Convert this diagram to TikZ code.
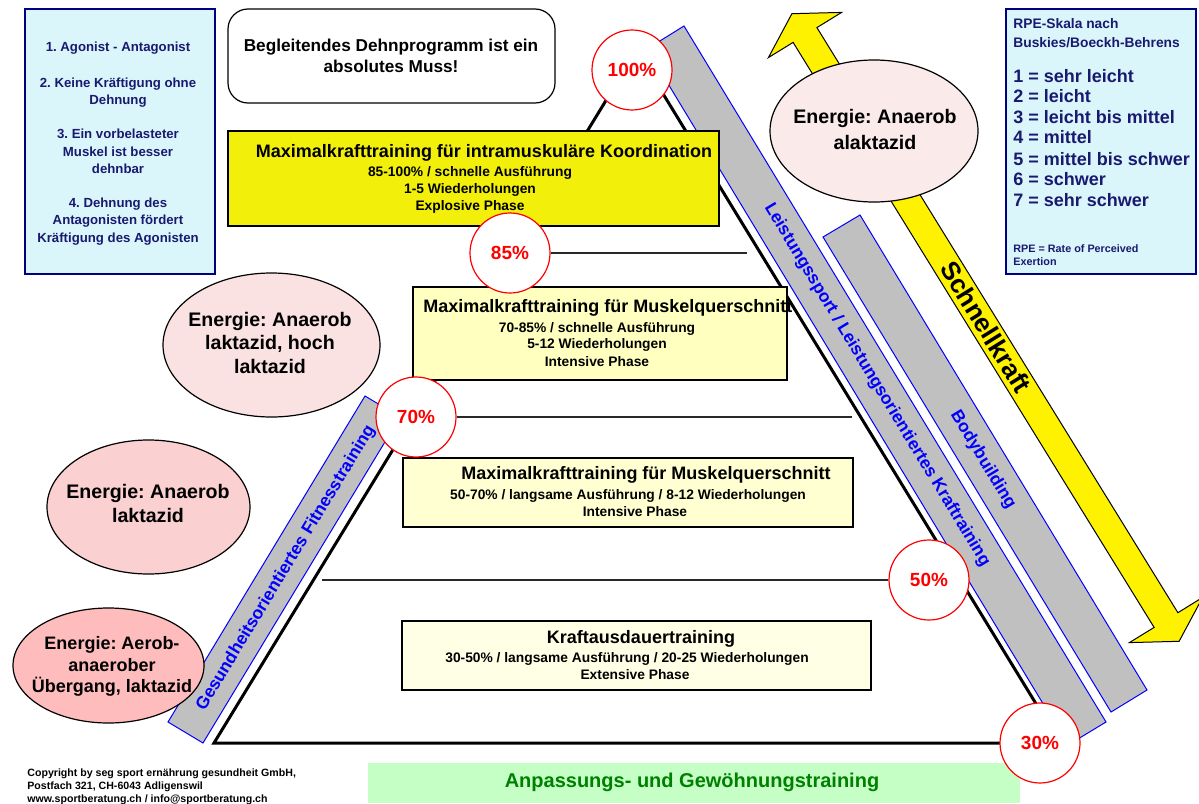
\documentclass[tikz,border=0pt]{standalone}
\usepackage{fontspec}
\setmainfont{Liberation Sans}
\usetikzlibrary{shapes.geometric}
\definecolor{navyT}{RGB}{25,25,112}
\definecolor{navyB}{RGB}{0,0,128}
\definecolor{cyanF}{RGB}{218,246,250}
\definecolor{yel1}{RGB}{242,240,10}
\definecolor{yel2}{RGB}{255,255,192}
\definecolor{yel3}{RGB}{255,255,210}
\definecolor{yel4}{RGB}{255,255,230}
\definecolor{greenF}{RGB}{198,255,198}
\definecolor{greenT}{RGB}{0,128,0}
\definecolor{pink1}{RGB}{251,234,234}
\definecolor{pink2}{RGB}{251,226,226}
\definecolor{pink3}{RGB}{250,208,208}
\definecolor{pink4}{RGB}{255,188,188}
\definecolor{barGray}{RGB}{192,192,192}
\definecolor{hlineC}{RGB}{40,40,40}
\newcommand\fsz[1]{\fontsize{#1pt}{#1pt}\selectfont\bfseries\frenchspacing}
\newcommand\Ln[5][]{\node[txt,#1] (#2) at (#3,#4) {#5};}
\begin{document}
\begin{tikzpicture}[x=0.5pt,y=-0.5pt,
  txt/.style={inner sep=0pt, anchor=mid},
  pct/.style={circle, draw=red, fill=white, line width=0.6pt, minimum size=40pt, inner sep=0pt, text=red, font=\fsz{9.5}},
  bar/.style={fill=barGray, draw=blue, line width=0.5pt},
  bartxt/.style={txt, anchor=center, text=blue, font=\fsz{8.7}},
  box/.style={draw=black, line width=0.6pt},
  infobox/.style={fill=cyanF, draw=navyB, line width=0.7pt},
  ell/.style={ellipse, draw=black, line width=0.6pt, inner sep=0pt},
  hline/.style={draw=hlineC, line width=0.6pt},
  etxt/.style={txt, font=\fsz{9.8}},
  ttl/.style={txt, font=\fsz{9}},
  sub/.style={txt, font=\fsz{6.9}},
  ltxt/.style={txt, text=navyT, font=\fsz{6.6}},
  rpe/.style={txt, anchor=mid west, text=navyT, font=\fsz{9}},
]
\useasboundingbox (0,0) rectangle (1199,803);
\fill[white] (0,0) rectangle (1199,803);

% triangle
\coordinate (apex) at (636.5,50.4);
\coordinate (tl) at (214,743);
\coordinate (tr) at (1060,743);
\draw[line width=1.5pt, line join=miter] (tl) -- (apex) -- (tr) -- cycle;

% grey bars
\draw[bar] (365,396) -- (400,417) -- (203,743) -- (168,722) -- cycle;
\draw[bar] (647,49) -- (684,26) -- (1106,722) -- (1068,745) -- cycle;
\draw[bar] (823,237) -- (860,215) -- (1147,690) -- (1111,712) -- cycle;
\node[bartxt, rotate=58.85] (tfit) at (286,568) {Gesundheitsorientiertes Fitnesstraining};
\node[bartxt, rotate=-58.8] (tleist) at (877,385) {Leistungssport / Leistungsorientiertes Kraftraining};
\node[bartxt, rotate=-58.8] (tbody) at (983,460) {Bodybuilding};

% double arrow Schnellkraft
\fill[yellow] (791.9,13.7) -- (841.6,12.4) -- (816.9,27.6) -- (1177.9,612.7) -- (1202.6,597.4) -- (1179.1,641.3) -- (1129.4,642.6) -- (1154.1,627.4) -- (793.1,42.4) -- (768.4,57.6) -- cycle;
\draw[black, line width=0.5pt, line join=miter] (791.9,13.7) -- (841.6,12.4) -- (816.9,27.6) -- (1177.9,612.7) -- (1202.6,597.4) -- (1179.1,641.3) -- (1129.4,642.6) -- (1154.1,627.4) -- (793.1,42.4) -- (768.4,57.6) -- cycle;
\node[txt, anchor=center, rotate=-58.3, font=\fsz{13}] (schnell) at (986,327) {Schnellkraft};

% left info box
\draw[infobox] (25,9) rectangle (215,274);
\Ln[ltxt]{l1}{118}{46}{1. Agonist - Antagonist}
\Ln[ltxt]{l2a}{118}{82}{2. Keine Kräftigung ohne}
\Ln[ltxt]{l2b}{118}{99}{Dehnung}
\Ln[ltxt]{l3a}{118}{133}{3. Ein vorbelasteter}
\Ln[ltxt]{l3b}{118}{151}{Muskel ist besser}
\Ln[ltxt]{l3c}{118}{168}{dehnbar}
\Ln[ltxt]{l4a}{118}{202}{4. Dehnung des}
\Ln[ltxt]{l4b}{118}{219}{Antagonisten fördert}
\Ln[ltxt]{l4c}{118}{237}{Kräftigung des Agonisten}

% RPE box
\draw[infobox] (1006,9) rectangle (1196,274);
\Ln[rpe, font=\fsz{6.9}]{r0a}{1013}{23}{RPE-Skala nach}
\Ln[rpe, font=\fsz{6.9}]{r0b}{1013}{42}{Buskies/Boeckh-Behrens}
\Ln[rpe]{r1}{1013}{77}{1 = sehr leicht}
\Ln[rpe]{r2}{1013}{97}{2 = leicht}
\Ln[rpe]{r3}{1013}{118}{3 = leicht bis mittel}
\Ln[rpe]{r4}{1013}{138}{4 = mittel}
\Ln[rpe]{r5}{1013}{160}{5 = mittel bis schwer}
\Ln[rpe]{r6}{1013}{180}{6 = schwer}
\Ln[rpe]{r7}{1013}{201}{7 = sehr schwer}
\Ln[rpe, font=\fsz{5.4}]{r8a}{1013}{247}{RPE = Rate of Perceived}
\Ln[rpe, font=\fsz{5.4}]{r8b}{1013}{260}{Exertion}

% rounded box
\draw[box, rounded corners=10pt, fill=white] (228,9) rectangle (555,103);
\Ln[txt, font=\fsz{8.6}]{d1}{391}{46}{Begleitendes Dehnprogramm ist ein}
\Ln[txt, font=\fsz{8.6}]{d2}{391}{67}{absolutes Muss!}

% level boxes
\draw[box, fill=yel1] (228,131) rectangle (719,226);
\Ln[ttl]{b1t}{484}{152}{Maximalkrafttraining für intramuskuläre Koordination}
\Ln[sub]{b1a}{470}{171}{85-100\% / schnelle Ausführung}
\Ln[sub]{b1b}{470}{188}{1-5 Wiederholungen}
\Ln[sub]{b1c}{470}{205}{Explosive Phase}

\draw[box, fill=yel2] (413,287) rectangle (787,380);
\Ln[ttl, anchor=mid west]{b2t}{423}{307}{Maximalkrafttraining für Muskelquerschnitt}
\Ln[sub]{b2a}{597}{327}{70-85\% / schnelle Ausführung}
\Ln[sub]{b2b}{597}{343}{5-12 Wiederholungen}
\Ln[sub]{b2c}{597}{361}{Intensive Phase}

\draw[box, fill=yel3] (403,458) rectangle (853,527);
\Ln[ttl]{b3t}{646}{474}{Maximalkrafttraining für Muskelquerschnitt}
\Ln[sub]{b3a}{628}{494}{50-70\% / langsame Ausführung / 8-12 Wiederholungen}
\Ln[sub]{b3b}{635}{511}{Intensive Phase}

\draw[box, fill=yel4] (402,621) rectangle (871,690);
\Ln[ttl]{b4t}{641}{638}{Kraftausdauertraining}
\Ln[sub]{b4a}{627}{657}{30-50\% / langsame Ausführung / 20-25 Wiederholungen}
\Ln[sub]{b4b}{635}{674}{Extensive Phase}

% green box
\fill[greenF] (368,763) rectangle (1020,803);
\Ln[txt, text=greenT, font=\fsz{10}]{green}{692}{782}{Anpassungs- und Gewöhnungstraining}

% copyright
\Ln[txt, anchor=mid west, font=\fsz{5.3}]{c1}{27}{771}{Copyright by seg sport ernährung gesundheit GmbH,}
\Ln[txt, anchor=mid west, font=\fsz{5.3}]{c2}{27}{784}{Postfach 321, CH-6043 Adligenswil}
\Ln[txt, anchor=mid west, font=\fsz{5.3}]{c3}{27}{797}{www.sportberatung.ch / info@sportberatung.ch}

% ellipses
\node[ell, fill=pink1, minimum width=104pt, minimum height=71pt] (e1) at (874,131) {};
\Ln[etxt]{e1a}{875}{118}{Energie: Anaerob}
\Ln[etxt]{e1b}{875}{144}{alaktazid}
\node[ell, fill=pink2, minimum width=108.5pt, minimum height=72pt] (e2) at (271.5,345) {};
\Ln[etxt]{e2a}{270}{321}{Energie: Anaerob}
\Ln[etxt]{e2b}{270}{344}{laktazid, hoch}
\Ln[etxt]{e2c}{270}{368}{laktazid}
\node[ell, fill=pink3, minimum width=101.5pt, minimum height=67pt] (e3) at (148.5,507) {};
\Ln[etxt]{e3a}{148}{493}{Energie: Anaerob}
\Ln[etxt]{e3b}{148}{517}{laktazid}
\node[ell, fill=pink4, minimum width=95.5pt, minimum height=57.5pt] (e4) at (108.5,665.5) {};
\Ln[etxt, font=\fsz{9}]{e4a}{112}{644}{Energie: Aerob-}
\Ln[etxt, font=\fsz{9}]{e4b}{112}{666}{anaerober}
\Ln[etxt, font=\fsz{9}]{e4c}{112}{687}{Übergang, laktazid}

% percentage circles
\node[pct] (c100) at (632,70) {100\%};
\node[pct] (c85) at (510,253) {85\%};
\node[pct] (c70) at (416,417) {70\%};
\node[pct] (c50) at (929,580) {50\%};
\node[pct] (c30) at (1040,743) {30\%};

% level lines
\coordinate (e85) at (747,253);
\coordinate (e70) at (852,417);
\coordinate (s50) at (322,580);
\draw[hline] (c85.east) -- (e85);
\draw[hline] (c70.east) -- (e70);
\draw[hline] (s50) -- (c50.west);
\end{tikzpicture}
\end{document}
